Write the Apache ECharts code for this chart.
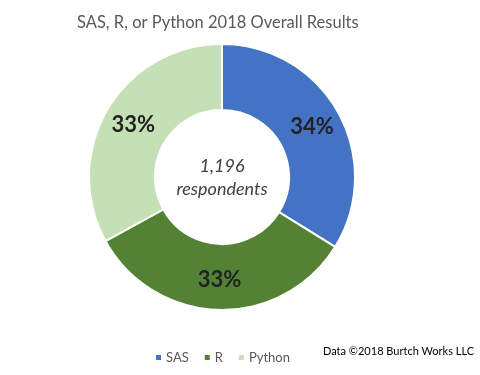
<!DOCTYPE html>
<html><head><meta charset="utf-8">
<script src="https://cdn.jsdelivr.net/npm/echarts@6/dist/echarts.min.js"></script>
<style>html,body{margin:0;padding:0;background:#fff}#c{width:480px;height:375px}</style>
</head><body><div id="c"></div>
<script>
const categories = ['SAS', 'R', 'Python'];
const shares = [33.8, 33.2, 33.0];
const colors = ['#4472C4', '#548235', '#C5E0B4'];
const titleText = 'SAS, R, or Python 2018 Overall Results';
const centerLines = ['1,196', 'respondents'];
const sourceText = 'Data \u00A92018 Burtch Works LLC';

const chart = echarts.init(document.getElementById('c'), null, {renderer: 'canvas'});
const FONT = 'Lato';
chart.setOption({
  animation: false,
  title: {
    text: titleText, left: 72, top: 9,
    textStyle: {fontFamily: FONT, fontSize: 16.5, fontWeight: 'normal', color: '#595959'}
  },
  legend: {
    data: categories, left: 149, top: 346, icon: 'rect', itemWidth: 7, itemHeight: 7, itemGap: 14,
    textStyle: {fontFamily: FONT, fontSize: 13, color: '#595959', padding: [0,0,0,-1]}
  },
  graphic: [
    {type: 'text', left: 323, top: 346, style: {text: sourceText, font: '11px ' + FONT, fill: '#000'}},
    {type: 'text', x: 222, y: 166, style: {text: centerLines[0], font: 'italic 18px ' + FONT, fill: '#404040', align: 'center', verticalAlign: 'middle'}},
    {type: 'text', x: 222, y: 189, style: {text: centerLines[1], font: 'italic 18px ' + FONT, fill: '#404040', align: 'center', verticalAlign: 'middle'}}
  ],
  series: [{
    type: 'pie',
    center: [222, 177],
    radius: [67, 133],
    startAngle: 90,
    clockwise: true,
    data: categories.map((c, i) => ({name: c, value: shares[i], itemStyle: {color: colors[i]}})),
    itemStyle: {borderColor: '#fff', borderWidth: 2},
    label: {
      show: true, position: 'inside',
      formatter: p => Math.round(p.value) + '%',
      fontFamily: FONT, fontSize: 22, fontWeight: 'bold', color: '#222'
    },
    labelLine: {show: false},
    emphasis: {disabled: true}
  }]
});
</script></body></html>
